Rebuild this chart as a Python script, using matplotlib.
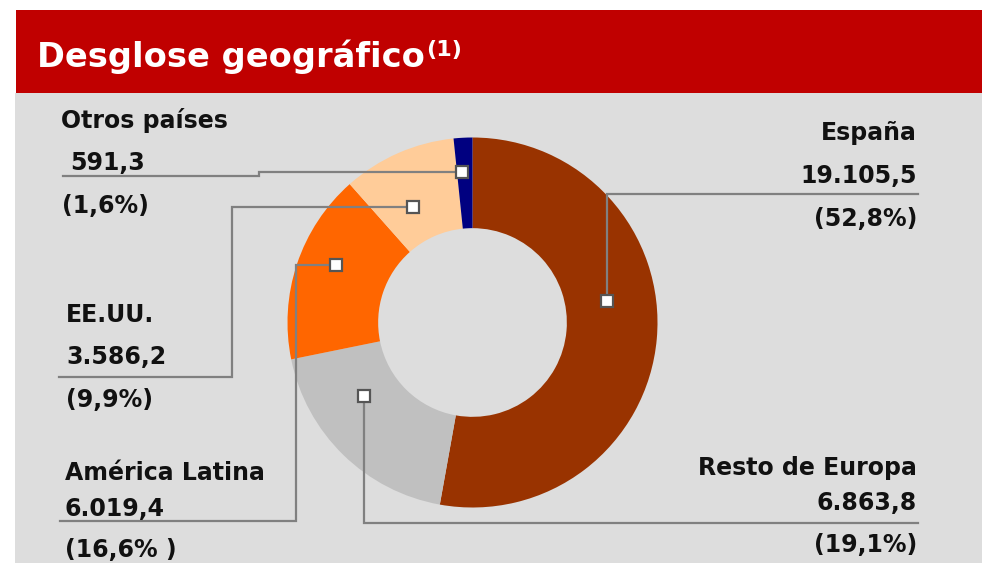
import matplotlib
matplotlib.use("Agg")
import matplotlib.pyplot as plt
from matplotlib.patches import Rectangle

# ---- data ----
regions = ["España", "Resto de Europa", "América Latina", "EE.UU.", "Otros países"]
values = [19105.5, 6863.8, 6019.4, 3586.2, 591.3]
value_labels = ["19.105,5", "6.863,8", "6.019,4", "3.586,2", "591,3"]
pct_labels = ["(52,8%)", "(19,1%)", "(16,6% )", "(9,9%)", "(1,6%)"]
colors = ["#993300", "#C0C0C0", "#FF6600", "#FFCC99", "#000080"]

title = "Desglose geográfico"
title_note = "(1)"

# ---- layout (pixels) ----
W, H = 982, 563
CX, CY, R = 472.5, 322.5, 185.0
FONT = "DejaVu Sans"
LINE_C = "#808080"

fig = plt.figure(figsize=(W / 100, H / 100), dpi=100)
fig.patch.set_facecolor("white")

# background axes
bg = fig.add_axes([0, 0, 1, 1], zorder=0)
bg.set_xlim(0, W)
bg.set_ylim(H, 0)
bg.axis("off")
bg.add_patch(Rectangle((15, 92.5), W - 15, H - 92.5, facecolor="#DDDDDD", edgecolor="none"))
bg.add_patch(Rectangle((16, 10), W - 16, 82.5, facecolor="#C00000", edgecolor="none"))
bg.text(37, 66.5, title, color="white", fontsize=24.2, fontweight="bold",
        family=FONT, va="baseline", ha="left")
bg.text(426, 56, title_note, color="white", fontsize=16, fontweight="bold",
        family=FONT, va="baseline", ha="left")

# donut axes
pie_ax = fig.add_axes([(CX - R) / W, (H - CY - R) / H, 2 * R / W, 2 * R / H], zorder=1)
pie_ax.pie(values, colors=colors, startangle=90, counterclock=False, radius=1.0,
           wedgeprops=dict(width=0.49, edgecolor="none", linewidth=0))
pie_ax.set_xlim(-1, 1)
pie_ax.set_ylim(-1, 1)
pie_ax.set_aspect("equal")
pie_ax.axis("off")

# overlay axes for leader lines and labels
ov = fig.add_axes([0, 0, 1, 1], zorder=2)
ov.set_xlim(0, W)
ov.set_ylim(H, 0)
ov.axis("off")
ov.patch.set_alpha(0)

# leader paths: first point is the marker
leaders = {
    "España": [(607, 301), (607, 194), (918, 194)],
    "Resto de Europa": [(364, 396), (364, 523), (918, 523)],
    "América Latina": [(336, 265), (296, 265), (296, 521), (60, 521)],
    "EE.UU.": [(413, 207), (232, 207), (232, 377), (59, 377)],
    "Otros países": [(462, 172), (259, 172), (259, 176), (63, 176)],
}
for name, pts in leaders.items():
    xs = [p[0] for p in pts]
    ys = [p[1] for p in pts]
    ov.plot(xs, ys, color=LINE_C, lw=1.6, solid_joinstyle="miter", zorder=2)
    ov.plot([xs[0]], [ys[0]], marker="s", ms=9, mfc="white", mec="#555555", mew=1.6, zorder=3)

# label placement: ha, baselines for (name, value, pct), x for each
label_pos = {
    "España": ("right", (140, 183, 226), (917, 917, 917)),
    "Resto de Europa": ("right", (475, 510, 552), (917, 917, 917)),
    "América Latina": ("left", (480, 516, 557), (65, 65, 65)),
    "EE.UU.": ("left", (322, 364, 407), (66, 66, 66)),
    "Otros países": ("left", (128, 170, 213), (61, 70, 62)),
}
for i, name in enumerate(regions):
    ha, ys, xs = label_pos[name]
    for txt, x, y in zip((name, value_labels[i], pct_labels[i]), xs, ys):
        ov.text(x, y, txt, ha=ha, va="baseline", fontsize=17, fontweight="bold",
                family=FONT, color="#111111")

fig.savefig("out.png", dpi=100, facecolor=fig.get_facecolor())
